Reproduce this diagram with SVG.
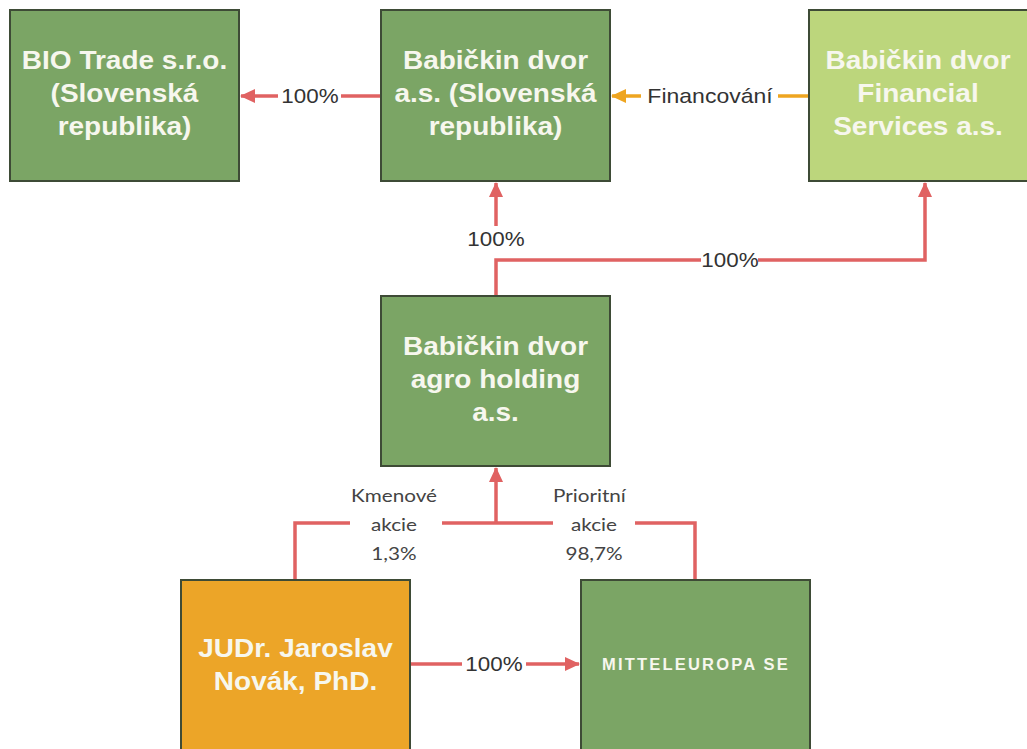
<svg xmlns="http://www.w3.org/2000/svg" width="1027" height="749" viewBox="0 0 1027 749">
<style>
.node rect{stroke:#3e4b36;stroke-width:2}
.g{fill:#7ba565}
.lg{fill:#bcd67c}
.or{fill:#eca528}
.nt{font-family:"Liberation Sans",Arial,sans-serif;font-weight:bold;font-size:25px;fill:#f7f7ee;text-anchor:middle}
.lbl{font-family:"Liberation Sans",Arial,sans-serif;font-size:20px;fill:#333;text-anchor:middle}
.lbl2{font-family:Lato,"Open Sans",sans-serif;font-size:18px;fill:#444;text-anchor:middle}
.r{stroke:#e06262;stroke-width:3.5;fill:none}
.o{stroke:#eea520;stroke-width:3.5;fill:none}
</style>
<defs>
<marker id="ar" markerUnits="userSpaceOnUse" markerWidth="16" markerHeight="16" refX="14" refY="8" orient="auto"><path d="M0,1 L15,8 L0,15 z" fill="#e06262"/></marker>
<marker id="ao" markerUnits="userSpaceOnUse" markerWidth="16" markerHeight="16" refX="14" refY="8" orient="auto"><path d="M0,1 L15,8 L0,15 z" fill="#eea520"/></marker>
</defs>
<rect width="1027" height="749" fill="#fff"/>
<g id="connectors">
<path class="r" d="M381,96 H341"/>
<path class="r" d="M278,96 H241" marker-end="url(#ar)"/>
<g transform="translate(310 0) scale(1.12 1)"><text class="lbl" x="0" y="103">100%</text></g>
<path class="o" d="M809,96 H778"/>
<path class="o" d="M641,96 H612" marker-end="url(#ao)"/>
<g transform="translate(710 0) scale(1.15 1)"><text class="lbl" x="0" y="103">Financování</text></g>
<path class="r" d="M496,296 V260 H701"/>
<path class="r" d="M758,260 H925 V183" marker-end="url(#ar)"/>
<path class="r" d="M496,226 V183" marker-end="url(#ar)"/>
<g transform="translate(496 0) scale(1.12 1)"><text class="lbl" x="0" y="246">100%</text></g>
<g transform="translate(730 0) scale(1.12 1)"><text class="lbl" x="0" y="267">100%</text></g>
<path class="r" d="M295,580 V523 H350"/>
<path class="r" d="M442,523 H553"/>
<path class="r" d="M635,523 H695 V580"/>
<path class="r" d="M496,523 V468" marker-end="url(#ar)"/>
<g transform="translate(394 0) scale(1.15 1)"><text class="lbl2" x="0" y="502">Kmenové</text><text class="lbl2" x="0" y="531">akcie</text><text class="lbl2" x="0" y="560">1,3%</text></g>
<g transform="translate(594 0) scale(1.15 1)"><text class="lbl2" x="-4" y="502">Prioritní</text><text class="lbl2" x="0" y="531">akcie</text><text class="lbl2" x="0" y="560">98,7%</text></g>
<path class="r" d="M410,664 H462"/>
<path class="r" d="M526,664 H579" marker-end="url(#ar)"/>
<g transform="translate(494 0) scale(1.12 1)"><text class="lbl" x="0" y="671">100%</text></g>
</g>
<g id="bio" class="node"><rect class="g" x="10" y="10" width="229" height="171"/>
<g transform="translate(124.5 0) scale(1.12 1)"><text class="nt" x="0" y="69">BIO Trade s.r.o.</text><text class="nt" x="0" y="102">(Slovenská</text><text class="nt" x="0" y="135">republika)</text></g></g>
<g id="bdas" class="node"><rect class="g" x="381" y="10" width="229" height="171"/>
<g transform="translate(495.5 0) scale(1.12 1)"><text class="nt" x="0" y="69">Babičkin dvor</text><text class="nt" x="0" y="102">a.s. (Slovenská</text><text class="nt" x="0" y="135">republika)</text></g></g>
<g id="bdfs" class="node"><rect class="lg" x="809" y="10" width="230" height="171"/>
<g transform="translate(918 0) scale(1.12 1)"><text class="nt" x="0" y="69">Babičkin dvor</text><text class="nt" x="0" y="102">Financial</text><text class="nt" x="0" y="135">Services a.s.</text></g></g>
<g id="agro" class="node"><rect class="g" x="381" y="296" width="229" height="170"/>
<g transform="translate(495.5 0) scale(1.12 1)"><text class="nt" x="0" y="355">Babičkin dvor</text><text class="nt" x="0" y="388">agro holding</text><text class="nt" x="0" y="421">a.s.</text></g></g>
<g id="novak" class="node"><rect class="or" x="181" y="580" width="229" height="180"/>
<g transform="translate(295.5 0) scale(1.12 1)"><text class="nt" x="0" y="657">JUDr. Jaroslav</text><text class="nt" x="0" y="690">Novák, PhD.</text></g></g>
<g id="mitteleuropa" class="node"><rect class="g" x="581" y="580" width="229" height="180"/>
<text class="nt" x="696" y="670" style="font-size:16.5px;letter-spacing:2.2px">MITTELEUROPA SE</text></g>
</svg>
